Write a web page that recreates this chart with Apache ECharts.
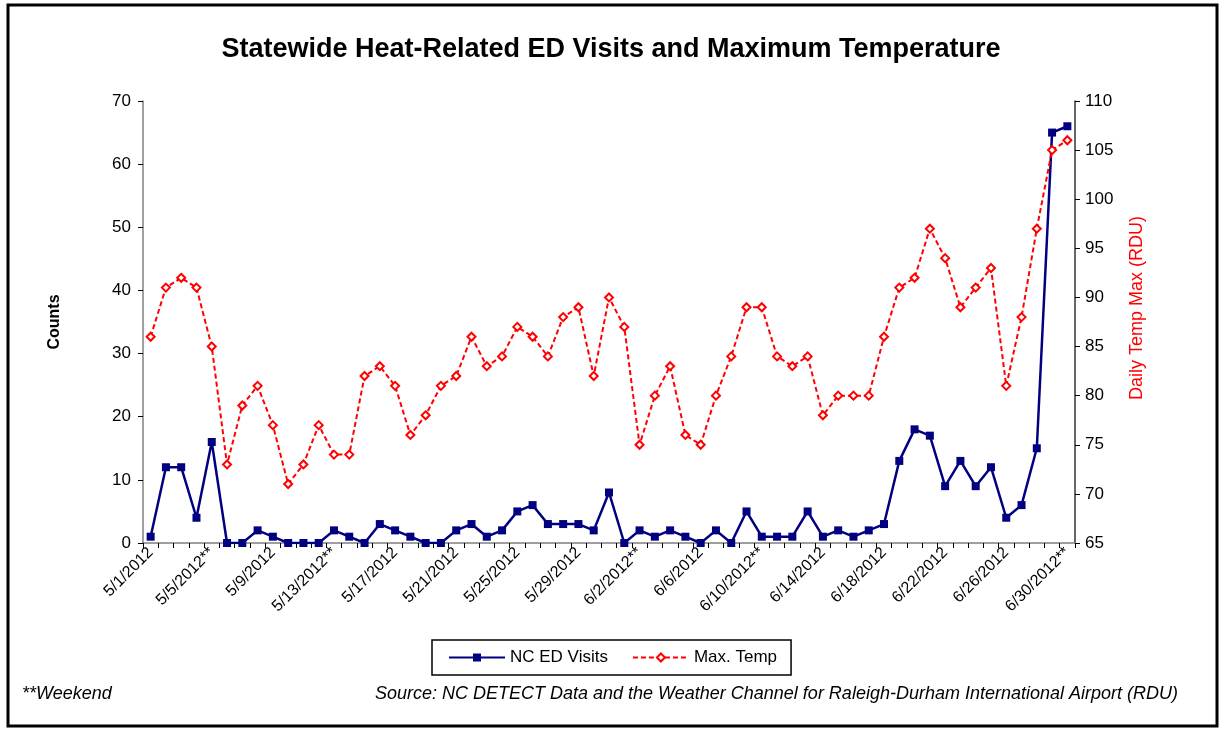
<!DOCTYPE html>
<html>
<head>
<meta charset="utf-8">
<script src="https://cdn.jsdelivr.net/npm/echarts@6/dist/echarts.min.js"></script>
<style>
  html, body { margin: 0; padding: 0; background: #fff; }
  #chart { width: 1222px; height: 729px; }
</style>
</head>
<body>
<div id="chart"></div>
<script>
// 日期（5/1/2012 - 6/30/2012）
var dates = [
  '5/1/2012', '5/2/2012', '5/3/2012', '5/4/2012', '5/5/2012**', '5/6/2012', '5/7/2012', '5/8/2012',
  '5/9/2012', '5/10/2012', '5/11/2012', '5/12/2012', '5/13/2012**', '5/14/2012', '5/15/2012', '5/16/2012',
  '5/17/2012', '5/18/2012', '5/19/2012', '5/20/2012', '5/21/2012', '5/22/2012', '5/23/2012', '5/24/2012',
  '5/25/2012', '5/26/2012', '5/27/2012', '5/28/2012', '5/29/2012', '5/30/2012', '5/31/2012', '6/1/2012',
  '6/2/2012**', '6/3/2012', '6/4/2012', '6/5/2012', '6/6/2012', '6/7/2012', '6/8/2012', '6/9/2012',
  '6/10/2012**', '6/11/2012', '6/12/2012', '6/13/2012', '6/14/2012', '6/15/2012', '6/16/2012', '6/17/2012',
  '6/18/2012', '6/19/2012', '6/20/2012', '6/21/2012', '6/22/2012', '6/23/2012', '6/24/2012', '6/25/2012',
  '6/26/2012', '6/27/2012', '6/28/2012', '6/29/2012', '6/30/2012**'
];

// 急诊就诊数
var edVisits = [
  1, 12, 12, 4, 16, 0, 0, 2, 1, 0, 0, 0, 2, 1, 0, 3,
  2, 1, 0, 0, 2, 3, 1, 2, 5, 6, 3, 3, 3, 2, 8, 0,
  2, 1, 2, 1, 0, 2, 0, 5, 1, 1, 1, 5, 1, 2, 1, 2,
  3, 13, 18, 17, 9, 13, 9, 12, 4, 6, 15, 65, 66
];

// 最高气温
var maxTemp = [
  86, 91, 92, 91, 85, 73, 79, 81, 77, 71, 73, 77, 74, 74, 82, 83,
  81, 76, 78, 81, 82, 86, 83, 84, 87, 86, 84, 88, 89, 82, 90, 87,
  75, 80, 83, 76, 75, 80, 84, 89, 89, 84, 83, 84, 78, 80, 80, 80,
  86, 91, 92, 97, 94, 89, 91, 93, 81, 88, 97, 105, 106
];

var chartDom = document.getElementById('chart');
var myChart = echarts.init(chartDom);
var font = 'Arial, "Liberation Sans", sans-serif';

var option = {
  backgroundColor: '#fff',
  animation: false,
  textStyle: { fontFamily: font },
  title: {
    text: 'Statewide Heat-Related ED Visits and Maximum Temperature',
    left: 'center',
    top: 31,
    textStyle: { fontSize: 27, fontWeight: 'bold', color: '#000', fontFamily: font }
  },
  legend: {
    left: 432,
    top: 640,
    width: 358,
    height: 38,
    padding: [9, 14, 9, 16],
    itemGap: 24,
    itemWidth: 56,
    itemHeight: 10,
    borderColor: '#000',
    borderWidth: 1.5,
    textStyle: { fontSize: 17, color: '#000', fontFamily: font },
    data: ['NC ED Visits', 'Max. Temp']
  },
  grid: { left: 143, right: 147, top: 101, bottom: 186 },
  xAxis: {
    type: 'category',
    data: dates,
    boundaryGap: true,
    axisLine: { lineStyle: { color: '#808080', width: 1.5 } },
    axisTick: { show: true, interval: 0, length: 5, lineStyle: { color: '#000' } },
    axisLabel: {
      interval: 3,
      rotate: 45,
      fontSize: 16,
      color: '#000',
      margin: 7,
      fontFamily: font
    }
  },
  yAxis: [
    {
      type: 'value',
      min: 0,
      max: 70,
      interval: 10,
      name: 'Counts',
      nameLocation: 'middle',
      nameGap: 80,
      nameTextStyle: { fontSize: 16, fontWeight: 'bold', color: '#000', fontFamily: font },
      axisLine: { show: true, lineStyle: { color: '#808080', width: 1.5 } },
      axisTick: { show: true, length: 5, lineStyle: { color: '#000' } },
      axisLabel: { fontSize: 17, color: '#000', margin: 12, fontFamily: font },
      splitLine: { show: false }
    },
    {
      type: 'value',
      min: 65,
      max: 110,
      interval: 5,
      position: 'right',
      axisLine: { show: true, lineStyle: { color: '#333', width: 1.5 } },
      axisTick: { show: true, length: 5, lineStyle: { color: '#000' } },
      axisLabel: { fontSize: 17, color: '#000', margin: 10, fontFamily: font },
      splitLine: { show: false }
    }
  ],
  series: [
    {
      name: 'NC ED Visits',
      type: 'line',
      yAxisIndex: 0,
      data: edVisits,
      symbol: 'rect',
      symbolSize: 8,
      lineStyle: { color: '#000080', width: 2.5 },
      itemStyle: { color: '#000080' }
    },
    {
      name: 'Max. Temp',
      type: 'line',
      yAxisIndex: 1,
      data: maxTemp,
      symbol: 'diamond',
      symbolSize: 8,
      lineStyle: { color: '#ff0000', width: 2, type: [5, 3] },
      itemStyle: { color: '#fff', borderColor: '#ff0000', borderWidth: 2 }
    }
  ],
  graphic: [
    {
      // 外框
      type: 'rect',
      shape: { x: 8, y: 5, width: 1209, height: 721 },
      style: { fill: 'none', stroke: '#000', lineWidth: 3 }
    },
    {
      // 右轴名称
      type: 'text',
      x: 1137,
      y: 308,
      rotation: Math.PI / 2,
      style: {
        text: 'Daily Temp Max (RDU)',
        fontSize: 18, fill: '#ff0000', fontFamily: font,
        align: 'center', verticalAlign: 'middle'
      }
    },
    {
      type: 'text',
      left: 22,
      top: 685,
      style: { text: '**Weekend', fontSize: 18, fontStyle: 'italic', fill: '#000', fontFamily: font }
    },
    {
      type: 'text',
      right: 44,
      top: 685,
      style: {
        text: 'Source: NC DETECT Data and the Weather Channel for Raleigh-Durham International Airport (RDU)',
        fontSize: 18, fontStyle: 'italic', fill: '#000', fontFamily: font
      }
    }
  ]
};

option && myChart.setOption(option);
</script>
</body>
</html>
